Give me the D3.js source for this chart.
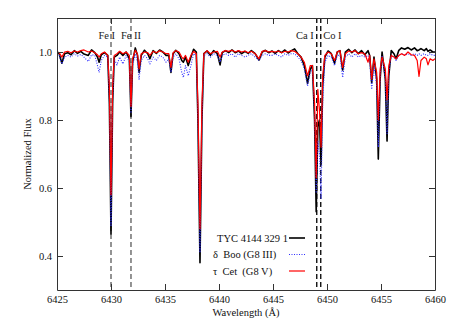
<!DOCTYPE html>
<head>
  <meta charset="utf-8">
  <title>Spectrum</title>
  <script src="https://d3js.org/d3.v7.min.js"></script>
  <style>
body{margin:0;background:#fff}
  </style>
</head>
<body></body>
<script>

// wavelength grid (Angstrom) shared by the three spectra
var wave = [6425.0,6425.2,6425.45,6425.7,6426.0,6426.3,6426.6,6426.9,6427.2,6427.5,
6427.9,6428.2,6428.5,6428.75,6428.9,6429.1,6429.4,6429.7,6429.85,6430.0,
6430.15,6430.3,6430.55,6430.8,6431.1,6431.4,6431.7,6431.85,6432.0,6432.25,
6432.45,6432.6,6432.8,6433.1,6433.4,6433.6,6433.9,6434.2,6434.5,6434.8,
6435.1,6435.35,6435.55,6435.75,6436.0,6436.3,6436.55,6436.7,6436.9,6437.15,
6437.4,6437.65,6437.9,6438.05,6438.24,6438.42,6438.6,6438.9,6439.2,6439.5,
6439.85,6440.1,6440.3,6440.6,6440.9,6441.2,6441.5,6441.8,6442.1,6442.4,
6442.7,6443.0,6443.35,6443.7,6444.0,6444.3,6444.6,6444.9,6445.2,6445.5,
6445.8,6446.1,6446.4,6446.7,6447.0,6447.3,6447.6,6447.9,6448.2,6448.45,
6448.65,6448.85,6449.0,6449.15,6449.3,6449.45,6449.6,6449.8,6450.1,6450.4,
6450.7,6450.95,6451.2,6451.45,6451.7,6452.0,6452.3,6452.6,6452.9,6453.2,
6453.5,6453.8,6453.95,6454.14,6454.35,6454.6,6454.75,6454.92,6455.1,6455.4,
6455.56,6455.72,6455.95,6456.2,6456.4,6456.65,6456.9,6457.2,6457.5,6457.8,
6458.1,6458.35,6458.52,6458.7,6459.0,6459.2,6459.35,6459.55,6459.8,6460.0]

// TYC 4144 329 1
var tyc = [1.000,0.995,0.967,0.995,0.998,0.992,1.004,0.996,1.002,0.994,
0.990,1.006,0.998,0.985,0.970,0.992,0.998,0.990,0.850,0.465,
0.850,0.985,0.990,1.000,0.990,1.000,0.980,0.810,0.970,1.012,
0.990,0.940,0.990,1.005,0.995,0.980,1.004,0.996,1.006,1.000,
0.990,0.990,0.940,0.995,1.005,0.995,0.975,0.970,0.985,0.960,
0.985,1.008,1.000,0.800,0.380,0.800,0.995,1.003,0.990,1.004,
0.995,0.962,0.998,1.004,0.998,1.006,0.998,1.003,0.995,1.002,
0.996,1.004,0.995,0.976,1.000,1.005,0.998,1.003,0.996,1.004,
0.998,1.006,0.997,1.004,1.009,0.995,0.985,0.960,0.908,0.950,
0.960,0.800,0.530,0.780,0.800,0.670,0.900,0.985,1.003,0.995,
0.967,1.000,1.004,0.947,1.000,1.008,0.998,1.006,0.995,1.004,
0.992,1.004,0.990,0.910,0.985,0.920,0.685,0.920,1.000,0.920,
0.738,0.930,1.004,0.995,0.980,1.005,1.012,1.008,1.013,1.006,
1.012,1.004,1.006,1.010,1.004,1.010,1.002,1.006,1.000,1.000]

// delta Boo (G8 III)
var dboo = [0.995,0.990,0.965,0.985,0.990,0.985,0.995,0.988,0.993,0.985,
0.972,0.992,0.990,0.960,0.940,0.975,0.990,0.985,0.860,0.490,
0.860,0.980,0.962,0.985,0.965,0.990,0.970,0.820,0.960,0.995,
0.970,0.920,0.975,0.990,0.980,0.965,0.985,0.975,0.990,0.985,
0.970,0.980,0.940,0.985,0.995,0.980,0.940,0.925,0.960,0.930,
0.960,0.995,0.990,0.800,0.410,0.800,0.990,0.995,0.985,0.995,
0.990,0.970,0.990,0.995,0.990,0.995,0.985,0.995,0.990,0.985,
0.990,0.995,0.985,0.975,0.990,0.995,0.990,0.990,0.995,0.990,
0.985,0.995,0.990,0.995,0.995,0.985,0.975,0.950,0.900,0.940,
0.950,0.820,0.585,0.740,0.700,0.570,0.850,0.970,0.990,0.985,
0.960,0.990,0.990,0.925,0.985,0.995,0.985,0.995,0.985,0.990,
0.985,0.990,0.975,0.890,0.960,0.900,0.720,0.930,0.990,0.920,
0.760,0.940,0.990,0.985,0.975,0.990,0.995,0.990,0.995,0.990,
0.995,0.990,0.995,0.990,0.995,0.990,0.990,0.995,0.990,0.990]

// tau Cet (G8 V)
var tcet = [1.000,0.998,0.985,1.000,1.002,0.998,1.003,1.000,1.004,1.006,
1.000,1.003,0.998,0.992,0.985,0.995,1.000,0.990,0.900,0.580,
0.900,0.990,0.995,1.002,0.995,1.000,0.990,0.840,0.980,1.005,
0.995,0.950,0.995,1.000,0.998,0.990,1.002,0.998,1.004,1.000,
0.995,0.995,0.955,0.998,1.004,1.000,0.985,0.980,0.990,0.970,
0.990,1.002,0.995,0.850,0.480,0.850,0.995,1.004,0.995,1.000,
1.002,0.985,1.000,1.004,1.002,1.005,1.000,1.004,1.000,1.003,
0.998,1.002,0.995,0.980,1.002,1.004,1.000,1.002,1.000,1.003,
0.998,1.002,1.000,1.004,1.002,0.995,0.985,0.970,0.930,0.960,
0.960,0.850,0.630,0.890,0.830,0.720,0.930,0.990,1.000,0.995,
0.975,1.000,1.004,0.955,0.995,1.003,1.000,1.004,0.995,0.998,
0.995,0.970,0.990,0.920,0.980,0.940,0.800,0.950,0.985,0.950,
0.860,0.960,0.990,0.985,0.980,0.990,0.995,0.990,1.000,0.992,
0.990,0.975,0.928,0.975,0.985,0.980,0.962,0.980,0.975,0.980]

var xTicks = [6425,6430,6435,6440,6445,6450,6455,6460]
var yTicks = [0.4,0.6,0.8,1.0]

// marked lines
var markWave  = [6430.0, 6431.85, 6449.05, 6449.42]
var markLabel = ["Fe I", "Fe II", "Ca I", "Co I"]

var seriesNames = ["TYC 4144 329 1", "\u03b4  Boo (G8 III)", "\u03c4  Cet  (G8 V)"]

var serif = "'Liberation Serif', 'DejaVu Serif', serif"

var margin = {top: 18, right: 17, bottom: 37, left: 57},
    width = 452 - margin.left - margin.right,
    height = 327 - margin.top - margin.bottom;

var svg = d3.select("body").append("svg").attr("width", 452).attr("height", 327)
  .append("g").attr("transform", "translate(" + margin.left + "," + margin.top + ")");

var xScale = d3.scaleLinear().domain([6425, 6460]).range([0, width]);
var yScale = d3.scaleLinear().domain([0.3, 1.1]).range([height, 0]);

svg.append("clipPath").attr("id", "clip").append("rect").attr("width", width).attr("height", height)

var plotlines = svg.append("g").attr("clip-path", "url(#clip)")

// dashed line markers
plotlines.selectAll(".mark").data(markWave).enter().append("line")
  .attr("x1", d => xScale(d)).attr("x2", d => xScale(d))
  .attr("y1", 0).attr("y2", height)
  .attr("stroke", (d, i) => i < 2 ? "#666" : "#111")
  .attr("stroke-width", 1.4)
  .attr("stroke-dasharray", "5,3")

var line = d3.line().x(d => xScale(d[0])).y(d => yScale(d[1]))

var series = [
  {v: tyc,  color: "#000", w: 1.6, dash: null},
  {v: dboo, color: "#2f2fff", w: 1.1, dash: "1,1.5"},
  {v: tcet, color: "#f00", w: 1.2, dash: null}
]

for (var s = 0; s < series.length; s++) {
  var pts = wave.map((w, i) => [w, series[s].v[i]])
  plotlines.append("path").datum(pts)
    .attr("fill", "none")
    .attr("stroke", series[s].color)
    .attr("stroke-width", series[s].w)
    .attr("stroke-dasharray", series[s].dash)
    .attr("stroke-linejoin", "round")
    .attr("d", line)
}

// line labels
var labelDx = [4, -10, -3, 2.5]
var labelAnchor = ["end", "start", "end", "start"]
svg.selectAll(".marklabel").data(markLabel).enter().append("text")
  .attr("x", (d, i) => xScale(markWave[i]) + labelDx[i])
  .attr("y", 20.5)
  .attr("text-anchor", (d, i) => labelAnchor[i])
  .attr("font-size", "10.5px")
  .style("font-family", serif)
  .attr("fill", "#222")
  .text(d => d)

// axes, ticks pointing inward
var xMinor = d3.range(6425, 6461, 1)
var yMinor = d3.range(0.3, 1.1001, 0.05)

var gx = svg.append("g").attr("transform", "translate(0," + height + ")")
gx.call(d3.axisBottom(xScale).tickValues(xMinor).tickSize(-3).tickSizeOuter(0).tickFormat(""))
gx.call(d3.axisBottom(xScale).tickValues(xTicks).tickSize(-6).tickSizeOuter(0).tickPadding(6).tickFormat(d3.format("d")))

var gt = svg.append("g")
gt.call(d3.axisTop(xScale).tickValues(xMinor).tickSize(-3).tickSizeOuter(0).tickFormat(""))
gt.call(d3.axisTop(xScale).tickValues(xTicks).tickSize(-6).tickSizeOuter(0).tickFormat(""))

var gy = svg.append("g")
gy.call(d3.axisLeft(yScale).tickValues(yMinor).tickSize(-3).tickSizeOuter(0).tickFormat(""))
gy.call(d3.axisLeft(yScale).tickValues(yTicks).tickSize(-6).tickSizeOuter(0).tickPadding(5).tickFormat(d3.format(".1f")))

var gr = svg.append("g").attr("transform", "translate(" + width + ",0)")
gr.call(d3.axisRight(yScale).tickValues(yMinor).tickSize(-3).tickSizeOuter(0).tickFormat(""))
gr.call(d3.axisRight(yScale).tickValues(yTicks).tickSize(-6).tickSizeOuter(0).tickFormat(""))

svg.selectAll(".domain").attr("stroke", "#333")
svg.selectAll(".tick line").attr("stroke", "#333")
svg.selectAll(".tick text").style("font-size", "10.5px").style("font-family", serif).attr("fill", "#111")

svg.append("text").text("Wavelength (\u00c5)")
  .attr("x", width / 2).attr("y", height + 26).attr("text-anchor", "middle")
  .style("font-size", "10.5px").style("font-family", serif).attr("fill", "#111")

svg.append("text").text("Normalized Flux")
  .attr("transform", "translate(" + (-26) + "," + (height / 2) + ") rotate(-90)")
  .attr("text-anchor", "middle")
  .style("font-size", "10.5px").style("font-family", serif).attr("fill", "#111")

// legend
var legend = svg.append("g").attr("transform", "translate(156,220)")
for (var k = 0; k < seriesNames.length; k++) {
  legend.append("text").text(seriesNames[k])
    .attr("x", k == 0 ? 4 : 0).attr("y", k * 16.5 + 3.5)
    .style("font-size", "10.5px").style("font-family", serif).attr("fill", "#111")
    .style("white-space", "pre")
  legend.append("line")
    .attr("x1", 76).attr("x2", 92).attr("y1", k * 16.5).attr("y2", k * 16.5)
    .attr("stroke", series[k].color).attr("stroke-width", series[k].w)
    .attr("stroke-dasharray", series[k].dash)
}

</script>
